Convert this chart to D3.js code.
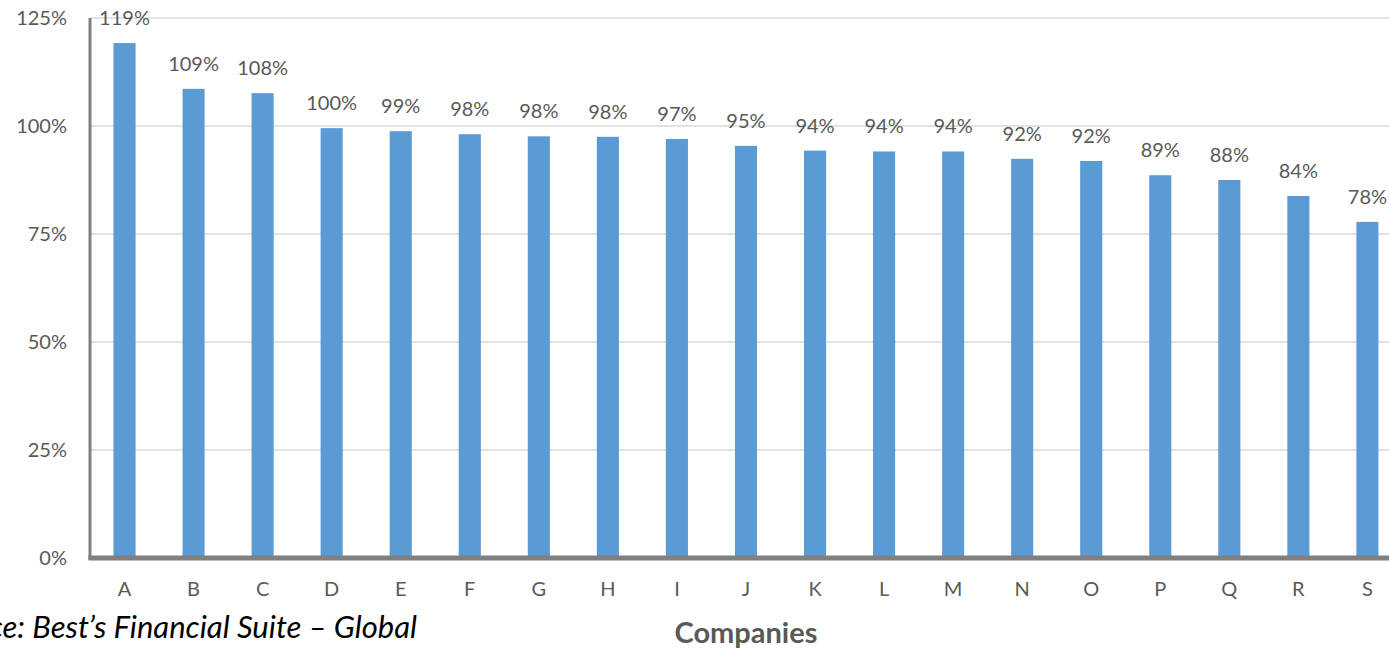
<!DOCTYPE html>
<html>
<head>
<meta charset="utf-8">
<script src="https://cdn.jsdelivr.net/npm/d3@7"></script>
<style>
  html, body { margin: 0; padding: 0; background: #fff; overflow: hidden; }
  svg { display: block; }
</style>
</head>
<body>
<svg id="chart" width="1389" height="648"></svg>
<script>
// Companies and their ratios (percent)
const companies = ["A","B","C","D","E","F","G","H","I","J","K","L","M","N","O","P","Q","R","S"];
const ratios = [119.2, 108.6, 107.6, 99.5, 98.8, 98.1, 97.6, 97.5, 97.0, 95.4, 94.3, 94.1, 94.1, 92.4, 91.9, 88.6, 87.5, 83.8, 77.8];
const yTicks = [0, 25, 50, 75, 100, 125];

(function () {
  const svg = d3.select("#chart");
  const W = 1389;
  const mLeft = 90, mTop = 18, mBottom = 558;
  const step = 69.05;
  const mRight = mLeft + step * companies.length;

  const x = d3.scaleBand().domain(companies).range([mLeft, mRight]).paddingInner(0.68).paddingOuter(0.34);
  const y = d3.scaleLinear().domain([0, 125]).range([mBottom, mTop]);

  const textColor = "#595959";
  const font = "Lato, 'Open Sans', sans-serif";

  // horizontal gridlines
  svg.append("g")
    .selectAll("line")
    .data(yTicks.filter(d => d > 0))
    .join("line")
    .attr("x1", mLeft).attr("x2", W)
    .attr("y1", d => y(d)).attr("y2", d => y(d))
    .attr("stroke", "#d9d9d9").attr("stroke-width", 1.5);

  // y axis tick labels
  const yAxis = d3.axisLeft(y).tickValues(yTicks).tickFormat(d => d + "%").tickSize(0).tickPadding(23);
  const gy = svg.append("g").attr("transform", `translate(${mLeft},0)`).call(yAxis);
  gy.select(".domain").remove();
  gy.selectAll("text").attr("fill", textColor).style("font-family", font).style("font-size", "20px");

  // bars
  svg.append("g")
    .selectAll("rect")
    .data(companies)
    .join("rect")
    .attr("x", d => x(d))
    .attr("width", x.bandwidth())
    .attr("y", (d, i) => y(ratios[i]))
    .attr("height", (d, i) => y(0) - y(ratios[i]))
    .attr("fill", "#5b9bd5");

  // value labels
  svg.append("g")
    .selectAll("text")
    .data(companies)
    .join("text")
    .attr("x", d => x(d) + x.bandwidth() / 2)
    .attr("y", (d, i) => y(ratios[i]) - 18)
    .attr("text-anchor", "middle")
    .attr("fill", textColor)
    .style("font-family", font).style("font-size", "20px")
    .text((d, i) => Math.round(ratios[i]) + "%");

  // axis lines
  svg.append("line")
    .attr("x1", mLeft).attr("x2", mLeft).attr("y1", mTop).attr("y2", mBottom + 2)
    .attr("stroke", "#808080").attr("stroke-width", 3);
  svg.append("line")
    .attr("x1", mLeft - 1.5).attr("x2", W).attr("y1", mBottom).attr("y2", mBottom)
    .attr("stroke", "#808080").attr("stroke-width", 5);

  // x axis category labels
  const xAxis = d3.axisBottom(x).tickSize(0).tickPadding(24);
  const gx = svg.append("g").attr("transform", `translate(0,${mBottom})`).call(xAxis);
  gx.select(".domain").remove();
  gx.selectAll("text").attr("fill", textColor).style("font-family", font).style("font-size", "20px");

  // axis title
  svg.append("text")
    .attr("x", 746).attr("y", 643)
    .attr("text-anchor", "middle")
    .attr("fill", textColor)
    .style("font-family", font).style("font-size", "29px").style("font-weight", "bold")
    .text("Companies");

  // source note
  svg.append("text")
    .attr("x", 417).attr("y", 638)
    .attr("text-anchor", "end")
    .attr("fill", "#000")
    .style("font-family", font).style("font-size", "31px").style("font-style", "italic")
    .text("Source: Best’s Financial Suite – Global");
})();
</script>
</body>
</html>
